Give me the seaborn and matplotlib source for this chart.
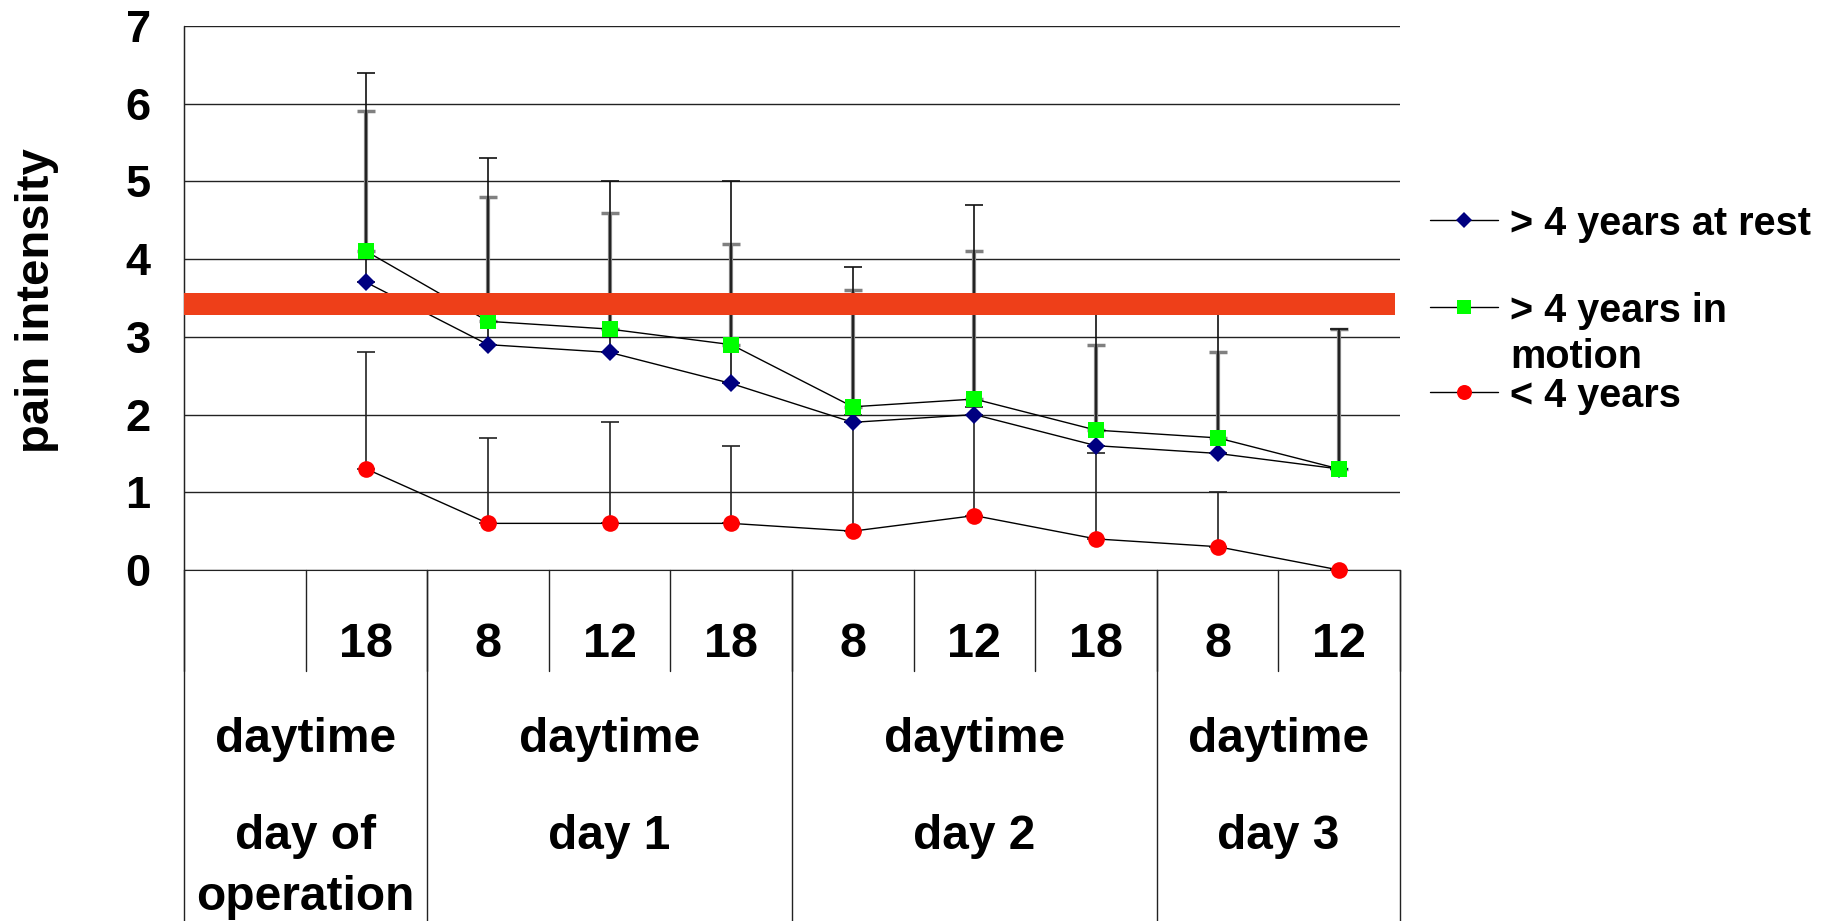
import numpy as np
import pandas as pd
import matplotlib
matplotlib.use("Agg")
import matplotlib.pyplot as plt
import matplotlib.transforms as mtransforms
from matplotlib.lines import Line2D
import seaborn as sns

# ---- data -------------------------------------------------------------
hours = ["", "18", "8", "12", "18", "8", "12", "18", "8", "12"]
period_label = "daytime"
days = ["day of\noperation", "day 1", "day 2", "day 3"]
day_spans = [2, 3, 3, 2]

rest_mean = [np.nan, 3.7, 2.9, 2.8, 2.4, 1.9, 2.0, 1.6, 1.5, 1.3]
rest_sd = [np.nan, 2.7, 2.4, 2.2, 2.6, 2.0, 2.7, 1.8, 1.9, 1.8]
motion_mean = [np.nan, 4.1, 3.2, 3.1, 2.9, 2.1, 2.2, 1.8, 1.7, 1.3]
motion_sd = [np.nan, 1.8, 1.6, 1.5, 1.3, 1.5, 1.9, 1.1, 1.1, 1.8]
young_mean = [np.nan, 1.3, 0.6, 0.6, 0.6, 0.5, 0.7, 0.4, 0.3, 0.0]
young_sd = [np.nan, 1.5, 1.1, 1.3, 1.0, 1.5, 1.4, 1.1, 0.7, 0.0]

threshold_band = (3.28, 3.56)

series_names = ["> 4 years at rest", "> 4 years in\nmotion", "< 4 years"]
y_ticks = [0, 1, 2, 3, 4, 5, 6, 7]

# ---- style ------------------------------------------------------------
sns.set_style("white")
plt.rcParams["font.family"] = ["Liberation Sans", "DejaVu Sans"]
plt.rcParams["font.weight"] = "bold"
plt.rcParams["text.color"] = "black"
plt.rcParams["axes.labelcolor"] = "black"
plt.rcParams["ytick.color"] = "black"
plt.rcParams["xtick.color"] = "black"

W, H = 1829, 921
fig = plt.figure(figsize=(W / 100, H / 100), dpi=100)
ax = fig.add_axes([184 / W, (H - 570) / H, 1216 / W, 544 / H])

pos = np.arange(len(hours))
frames = []
for name, m, s in zip(series_names,
                      [rest_mean, motion_mean, young_mean],
                      [rest_sd, motion_sd, young_sd]):
    frames.append(pd.DataFrame({"pos": pos, "mean": m, "sd": s, "series": name}))
df = pd.concat(frames, ignore_index=True)

styles = {
    series_names[0]: dict(marker="D", ms=9.5, color="#000080",
                          ecolor="#111111", elw=1.2, cthick=1.2),
    series_names[1]: dict(marker="s", ms=11.5, color="#00FF00",
                          ecolor="#808080", elw=3.0, cthick=2.5),
    series_names[2]: dict(marker="o", ms=12, color="#FF0000",
                          ecolor="#222222", elw=1.2, cthick=1.2),
}

# upper error bars
for name in [series_names[1], series_names[0], series_names[2]]:
    d = df[df.series == name].dropna()
    st = styles[name]
    ax.errorbar(d["pos"], d["mean"], yerr=[np.zeros(len(d)), d["sd"]],
                fmt="none", ecolor=st["ecolor"], elinewidth=st["elw"],
                capsize=6.5, capthick=st["cthick"], zorder=3)

# connecting lines with markers
for name in series_names:
    d = df[df.series == name].dropna()
    st = styles[name]
    sns.lineplot(data=d, x="pos", y="mean", ax=ax, color="black", lw=1.0,
                 marker=st["marker"], markersize=st["ms"],
                 markerfacecolor=st["color"], markeredgecolor=st["color"],
                 markeredgewidth=0, errorbar=None, legend=False, zorder=4,
                 clip_on=False)

# threshold band
ax.axhspan(*threshold_band, xmin=0, xmax=0.996, color="#EE3F19", lw=0, zorder=6)

# axes
ax.set_xlim(-0.5, len(hours) - 0.5)
ax.set_ylim(0, 7)
ax.set_yticks(y_ticks)
ax.set_yticklabels([str(t) for t in y_ticks], fontsize=32.5, fontweight="bold")
ax.tick_params(axis="y", length=0, pad=24)
ax.set_xticks([])
ax.set_xlabel("")
ax.set_ylabel("pain intensity", fontsize=34, fontweight="bold")
for t in y_ticks:
    ax.axhline(t, color="#222222", lw=1.0, zorder=1)
for side in ["top", "right"]:
    ax.spines[side].set_visible(False)
ax.spines["left"].set_color("#222222")
ax.spines["bottom"].set_color("#222222")

# ylabel placement in figure space
ax.yaxis.set_label_coords(59 / W, 1 - 301 / H, transform=fig.transFigure)

# ---- multi-level category axis ---------------------------------------
tr = mtransforms.blended_transform_factory(ax.transData, fig.transFigure)


def fy(px):
    return 1 - px / H


line_kw = dict(color="#222222", lw=1.0, transform=tr, clip_on=False)
# short separators between hour slots
for k in range(len(hours) + 1):
    xb = k - 0.5
    ax.add_line(Line2D([xb, xb], [fy(570), fy(671)], **line_kw))
# long separators between days (and outer edges)
edges = np.concatenate([[0], np.cumsum(day_spans)]) - 0.5
ax.add_line(Line2D([edges[0], edges[0]], [fy(26), fy(H + 2)], **line_kw))
for xb in edges[1:]:
    ax.add_line(Line2D([xb, xb], [fy(570), fy(H + 2)], **line_kw))

for k, lab in enumerate(hours):
    ax.text(k, fy(657), lab, transform=tr, ha="center", va="baseline",
            fontsize=35, fontweight="bold")

for i, lab in enumerate(days):
    xc = (edges[i] + edges[i + 1]) / 2
    ax.text(xc, fy(752), period_label, transform=tr, ha="center",
            va="baseline", fontsize=34.5, fontweight="bold")
    lines = lab.split("\n")
    for j, ln in enumerate(lines):
        ax.text(xc, fy(849 + 61 * j), ln, transform=tr, ha="center",
                va="baseline", fontsize=34.5, fontweight="bold")

# ---- legend -----------------------------------------------------------
legend_rows = [(220, [series_names[0]]),
               (307, series_names[1].split("\n")),
               (392, [series_names[2]])]
for (ypx, text_lines), name in zip(legend_rows, series_names):
    st = styles[name]
    fig.add_artist(Line2D([1430 / W, 1498 / W], [fy(ypx), fy(ypx)],
                          color="black", lw=1.0, transform=fig.transFigure))
    fig.add_artist(Line2D([1464 / W], [fy(ypx)], marker=st["marker"],
                          markersize=st["ms"] * 0.9, markerfacecolor=st["color"],
                          markeredgewidth=0, linestyle="none",
                          transform=fig.transFigure))
    for j, tl in enumerate(text_lines):
        fig.text(1510 / W, fy(ypx + 46 * j), tl, ha="left", va="center_baseline",
                 fontsize=28.5, fontweight="bold")

fig.savefig("out.png", dpi=100)
